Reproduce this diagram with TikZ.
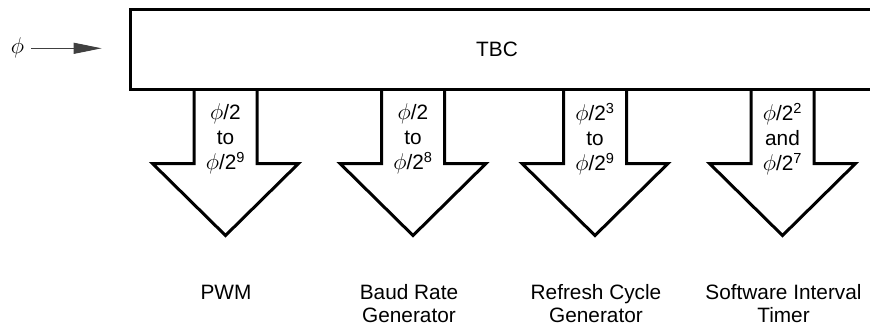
\documentclass[tikz,border=0pt]{standalone}
\usepackage{fontspec}
\setmainfont{Liberation Sans}
\usetikzlibrary{arrows.meta}
\tikzset{
  lbl/.style={font=\fontsize{20.8}{23}\selectfont, align=center, inner sep=0pt},
  shaftlbl/.style={font=\fontsize{20.8}{25}\selectfont, align=center, inner sep=0pt},
  blockarrow/.style={line width=3pt, line join=miter, fill=white},
  thickbox/.style={line width=3pt, draw},
}
\newcommand{\ph}{\scalebox{1.1}{$\phi$}}
\begin{document}
\begin{tikzpicture}[x=1pt,y=-1pt]
\useasboundingbox (0,0) rectangle (870,327);
\clip (0,0) rectangle (870,327);
% TBC box (extends past the right edge)
\draw[thickbox] (130,9.5) rectangle (900,89);
\node[lbl] (tbc) at (497,49) {TBC};
\coordinate (tbcin) at (130,48.3);
% phi input
\node[lbl] (phi) at (17.5,47.5) {\ph};
\draw[line width=1pt, black!75, -{Triangle[length=28pt,width=11pt]}, shorten >=28.3pt] (phi.east) ++(7,0.8) -- (tbcin);
% block arrows
\foreach \cx/\nm in {225.5/a, 413/b, 595/c, 782.5/d}{
  \draw[blockarrow] (\cx-31.5,89) -- (\cx-31.5,163.5) -- (\cx-73,163.5) -- (\cx,235.5)
     -- (\cx+73,163.5) -- (\cx+31.5,163.5) -- (\cx+31.5,89);
  \coordinate (\nm) at (\cx,0);
}
\draw[thickbox] (130,89) -- (900,89);
% shaft labels
\node[shaftlbl] (la) at (225.5,139) {\ph/2\\to\\\ph/2\textsuperscript{9}};
\node[shaftlbl] (lb) at (413,139) {\ph/2\\to\\\ph/2\textsuperscript{8}};
\node[shaftlbl] (lc) at (595,139) {\ph/2\textsuperscript{3}\\to\\\ph/2\textsuperscript{9}};
\node[shaftlbl] (ld) at (782.5,139) {\ph/2\textsuperscript{2}\\and\\\ph/2\textsuperscript{7}};
% destination labels
\node[lbl] (pwm) at (226,292) {PWM};
\node[lbl] (brg) at (409,304) {Baud Rate\\Generator};
\node[lbl] (rcg) at (596,304) {Refresh Cycle\\Generator};
\node[lbl] (sit) at (783.5,304) {Software Interval\\Timer};
\end{tikzpicture}
\end{document}
